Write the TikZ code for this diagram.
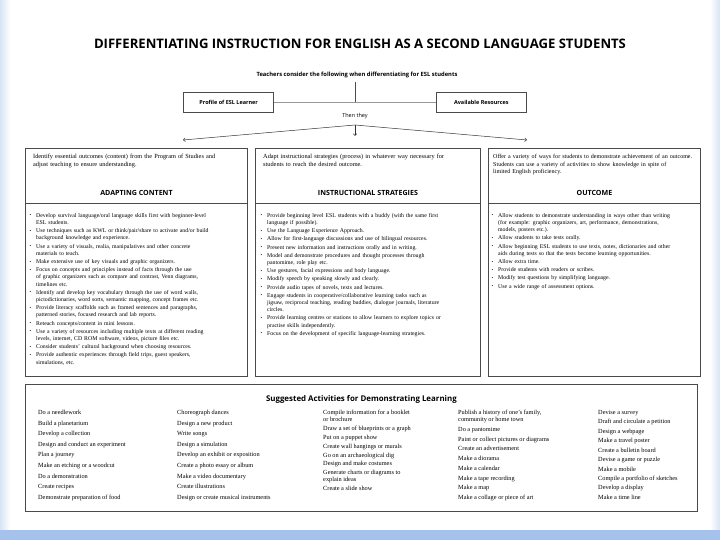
\documentclass[tikz,border=0pt]{standalone}
\usepackage{fontspec}
\setmainfont{Liberation Serif}
\newfontfamily\headfont{Open Sans}
\usepackage{enumitem}
\usetikzlibrary{arrows.meta, positioning}
\definecolor{slideblue}{HTML}{7EA8E4}
\definecolor{edgeblue}{HTML}{D6E4F5}
\definecolor{boxgray}{HTML}{4A4A4A}
\setlist[itemize]{label={\raisebox{0.5pt}{\fontsize{4.5}{4.5}\selectfont\textbullet}}, leftmargin=8pt, labelsep=5pt, itemsep=1pt, parsep=0pt, topsep=0pt, partopsep=0pt}
\tikzset{
  maintitle/.style={font=\headfont\bfseries\fontsize{13.1}{15}\selectfont, inner sep=0pt},
  leadin/.style={font=\headfont\bfseries\fontsize{5.8}{7}\selectfont, inner sep=0pt},
  factor/.style={rectangle, draw=boxgray, line width=0.6pt, minimum width=90pt, minimum height=20pt, font=\headfont\bfseries\fontsize{5.5}{6.5}\selectfont},
  thenlabel/.style={font=\headfont\fontsize{5.5}{6.5}\selectfont, inner sep=0pt},
  colbox/.style={rectangle, draw=boxgray, line width=0.9pt, minimum height=228pt, anchor=north west},
  intro/.style={text width=210pt, align=left, inner sep=0pt, font=\fontsize{6.3}{7.6}\selectfont},
  colhead/.style={font=\headfont\bfseries\fontsize{7.1}{8}\selectfont, inner sep=0pt},
  bullets/.style={align=left, inner sep=0pt, font=\fontsize{5.8}{7.2}\selectfont},
  actbox/.style={rectangle, draw=boxgray, line width=0.8pt, anchor=north west},
  acthead/.style={font=\headfont\bfseries\fontsize{7.9}{9}\selectfont, inner sep=0pt},
  activity/.style={align=left, inner sep=0pt, anchor=north west},
  boxrule/.style={draw=boxgray, line width=0.7pt},
  link/.style={draw=gray!80, line width=0.5pt},
  arrow/.style={draw=gray!40!black, line width=0.5pt, -{Straight Barb[length=2pt, width=3.5pt]}}
}

\begin{document}
\begin{tikzpicture}[x=1pt, y=-1pt]

  % slide background
  \useasboundingbox (0,0) rectangle (720,540);
  \fill[white] (0,0) rectangle (720,540);
  \shade[left color=edgeblue, right color=white] (0,0) rectangle (10,530);
  \shade[left color=white, right color=edgeblue] (710,0) rectangle (720,530);
  \shade[left color=slideblue!70, middle color=slideblue, right color=slideblue!70] (0,530) rectangle (720,540);

  \node (title) [maintitle] at (360,44) {DIFFERENTIATING INSTRUCTION FOR ENGLISH AS A SECOND LANGUAGE STUDENTS};
  \node (consider) [leadin] at (357,75) {Teachers consider the following when differentiating for ESL students};

  \coordinate (join) at (355,102);
  \node (profile) [factor, left=81pt of join] {Profile of ESL Learner};
  \node (resources) [factor, right=81pt of join] {Available Resources};
  \draw[link] (profile) -- (resources);
  \draw[boxrule] (consider.south -| join) ++(0,4) -- (join);
  \node (then) [thenlabel, below=11pt of join] {Then they};

  \coordinate (apex) at (355,125);
  \coordinate (leftend) at (183,140);
  \coordinate (rightend) at (527,140);
  \coordinate (down) at (355,136);
  \draw[arrow] (apex) -- (leftend);
  \draw[arrow] (apex) -- (rightend);
  \draw[arrow] (apex) -- (down);

  % the three columns
  \node (contentbox) [colbox, minimum width=222pt] at (25,148) {};
  \node (strategybox) [colbox, minimum width=225pt] at (255,148) {};
  \node (outcomebox) [colbox, minimum width=212pt] at (488,148) {};
  \foreach \b in {contentbox, strategybox, outcomebox}
    \draw[boxrule] ([yshift=-55pt]\b.north west) -- ([yshift=-55pt]\b.north east);

  \node (contentintro) [intro, below right=6pt and 8pt of contentbox.north west] {Identify essential outcomes (content) from the Program of Studies and\\ adjust teaching to ensure understanding.};
  \node (strategyintro) [intro, below right=6pt and 8pt of strategybox.north west] {Adapt instructional strategies (process) in whatever way necessary for\\ students to reach the desired outcome.};
  \node (outcomeintro) [intro, font=\fontsize{6.05}{7.6}\selectfont, below right=6pt and 5pt of outcomebox.north west] {Offer a variety of ways for students to demonstrate achievement of an outcome.\\ Students can use a variety of activities to show knowledge in spite of\\ limited English proficiency.};

  \node (contenthead) [colhead] at ([yshift=-45pt]contentbox.north) {ADAPTING CONTENT};
  \node (strategyhead) [colhead] at ([yshift=-45pt]strategybox.north) {INSTRUCTIONAL STRATEGIES};
  \node (outcomehead) [colhead] at ([yshift=-45pt]outcomebox.north) {OUTCOME};

  \node (contentlist) [bullets, text width=216pt, below right=62pt and 3pt of contentbox.north west] {
    \begin{itemize}
      \item Develop survival language/oral language skills first with beginner-level\\ ESL students.
      \item Use techniques such as KWL or think/pair/share to activate and/or build\\ background knowledge and experience.
      \item Use a variety of visuals, realia, manipulatives and other concrete\\ materials to teach.
      \item Make extensive use of key visuals and graphic organizers.
      \item Focus on concepts and principles instead of facts through the use\\ of graphic organizers such as compare and contrast, Venn diagrams,\\ timelines etc.
      \item Identify and develop key vocabulary through the use of word walls,\\ pictodictionaries, word sorts, semantic mapping, concept frames etc.
      \item Provide literacy scaffolds such as framed sentences and paragraphs,\\ patterned stories, focused research and lab reports.
      \item Reteach concepts/content in mini lessons.
      \item Use a variety of resources including multiple texts at different reading\\ levels, internet, CD ROM software, videos, picture files etc.
      \item Consider students' cultural background when choosing resources.
      \item Provide authentic experiences through field trips, guest speakers,\\ simulations, etc.
    \end{itemize}};
  \node (strategylist) [bullets, text width=220pt, below right=62pt and 4pt of strategybox.north west] {
    \begin{itemize}
      \item Provide beginning level ESL students with a buddy (with the same first\\ language if possible).
      \item Use the Language Experience Approach.
      \item Allow for first-language discussions and use of bilingual resources.
      \item Present new information and instructions orally and in writing.
      \item Model and demonstrate procedures and thought processes through\\ pantomime, role play etc.
      \item Use gestures, facial expressions and body language.
      \item Modify speech by speaking slowly and clearly.
      \item Provide audio tapes of novels, texts and lectures.
      \item Engage students in cooperative/collaborative learning tasks such as\\ jigsaw, reciprocal teaching, reading buddies, dialogue journals, literature\\ circles.
      \item Provide learning centres or stations to allow learners to explore topics or\\ practise skills independently.
      \item Focus on the development of specific language-learning strategies.
    \end{itemize}};
  \node (outcomelist) [bullets, text width=208pt, below right=62pt and 2pt of outcomebox.north west] {
    \begin{itemize}
      \item Allow students to demonstrate understanding in ways other than writing\\ (for example: graphic organizers, art, performance, demonstrations,\\ models, posters etc.).
      \item Allow students to take tests orally.
      \item Allow beginning ESL students to use texts, notes, dictionaries and other\\ aids during tests so that the tests become learning opportunities.
      \item Allow extra time.
      \item Provide students with readers or scribes.
      \item Modify test questions by simplifying language.
      \item Use a wide range of assessment options.
    \end{itemize}};

  % suggested activities
  \node (activitybox) [actbox, minimum width=672pt, minimum height=127pt] at (25,384) {};
  \node (activityhead) [acthead] at ([yshift=-15pt]activitybox.north) {Suggested Activities for Demonstrating Learning};

  \node (acts1) [activity, font=\fontsize{6.3}{10.6}\selectfont] at (38,410) {Do a needlework\\ Build a planetarium\\ Develop a collection\\ Design and conduct an experiment\\ Plan a journey\\ Make an etching or a woodcut\\ Do a demonstration\\ Create recipes\\ Demonstrate preparation of food};
  \node (acts2) [activity, font=\fontsize{6.3}{10.6}\selectfont] at (177,410) {Choreograph dances\\ Design a new product\\ Write songs\\ Design a simulation\\ Develop an exhibit or exposition\\ Create a photo essay or album\\ Make a video documentary\\ Create illustrations\\ Design or create musical instruments};
  \node (acts3) [activity, font=\fontsize{6.3}{8.8}\selectfont] at (323,410) {Compile information for a booklet\\[-1.6pt] or brochure\\ Draw a set of blueprints or a graph\\ Put on a puppet show\\ Create wall hangings or murals\\ Go on an archaeological dig\\ Design and make costumes\\ Generate charts or diagrams to\\[-1.6pt] explain ideas\\ Create a slide show};
  \node (acts4) [activity, font=\fontsize{6.3}{9.7}\selectfont] at (458,410) {Publish a history of one's family,\\[-2.5pt] community or home town\\ Do a pantomime\\ Paint or collect pictures or diagrams\\ Create an advertisement\\ Make a diorama\\ Make a calendar\\ Make a tape recording\\ Make a map\\ Make a collage or piece of art};
  \node (acts5) [activity, font=\fontsize{6.3}{9.45}\selectfont] at (598,410) {Devise a survey\\ Draft and circulate a petition\\ Design a webpage\\ Make a travel poster\\ Create a bulletin board\\ Devise a game or puzzle\\ Make a mobile\\ Compile a portfolio of sketches\\ Develop a display\\ Make a time line};

\end{tikzpicture}
\end{document}
